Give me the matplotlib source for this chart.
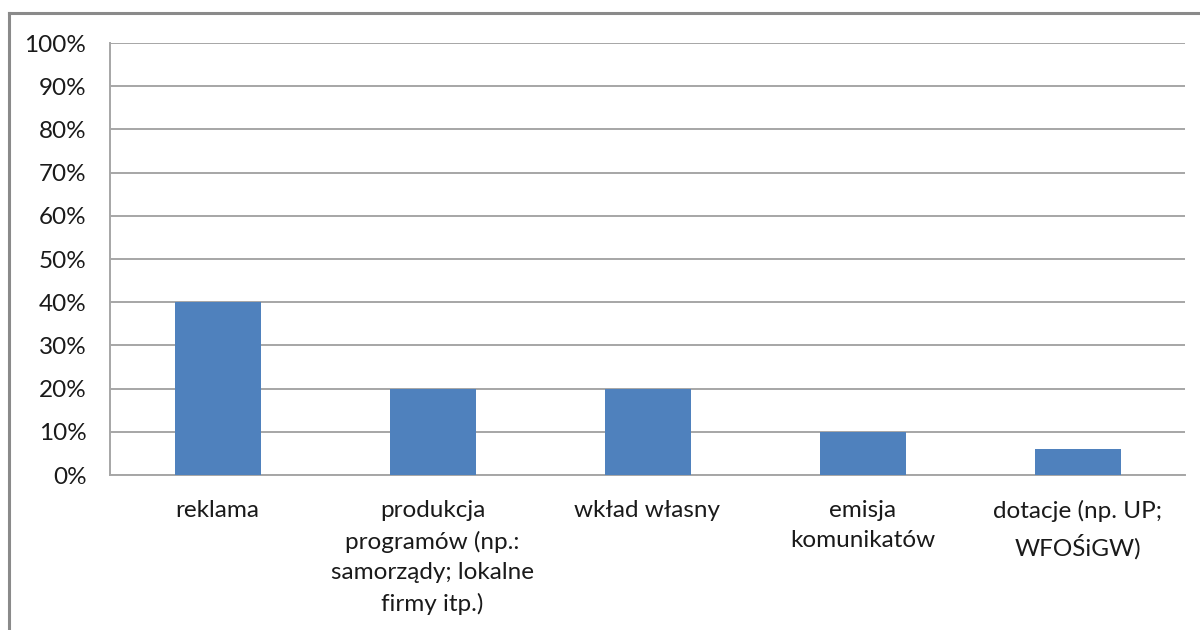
import matplotlib.pyplot as plt
from matplotlib.lines import Line2D
from matplotlib.ticker import FuncFormatter

categories = ['reklama',
              'produkcja\nprogramów (np.:\nsamorządy; lokalne\nfirmy itp.)',
              'wkład własny',
              'emisja\nkomunikatów',
              'dotacje (np. UP;\nWFOŚiGW)']
values = [40, 20, 20, 10, 6]
yticks = [0, 10, 20, 30, 40, 50, 60, 70, 80, 90, 100]

plt.rcParams['font.family'] = ['Lato', 'DejaVu Sans']

fig = plt.figure(figsize=(12, 6.3), dpi=100)
ax = fig.add_axes([110/1200, 1 - 475/630, 1075/1200, 432/630])

x = range(len(values))
ax.bar(x, values, width=0.4, color='#4f81bd', zorder=3)

ax.set_xlim(-0.5, len(values) - 0.5)
ax.set_ylim(0, 100)
ax.set_yticks(yticks)
ax.yaxis.set_major_formatter(FuncFormatter(lambda v, p: f'{int(v)}%'))
ax.set_xticks(list(x))
ax.set_xticklabels(categories, linespacing=1.55, va='top')
ax.tick_params(axis='y', length=0, pad=17, labelsize=17.5, labelcolor='#1a1a1a')
ax.tick_params(axis='x', length=0, pad=18, labelsize=17.5, labelcolor='#1a1a1a')

ax.grid(axis='y', color='#a6a6a6', linewidth=1.4, zorder=0)
for s in ['top', 'right']:
    ax.spines[s].set_visible(False)
ax.spines['left'].set_color('#a6a6a6')
ax.spines['bottom'].set_color('#a6a6a6')
ax.spines['left'].set_linewidth(1.4)
ax.spines['bottom'].set_linewidth(1.4)

# outer chart frame (cut off at right and bottom)
fx = 9/1200
fy = 1 - 13/630
fig.add_artist(Line2D([fx, fx], [0, fy], color='#8a8a8a', linewidth=2.2, transform=fig.transFigure))
fig.add_artist(Line2D([fx, 1], [fy, fy], color='#8a8a8a', linewidth=2.2, transform=fig.transFigure))

fig.savefig('out.png', dpi=100, facecolor='white')
